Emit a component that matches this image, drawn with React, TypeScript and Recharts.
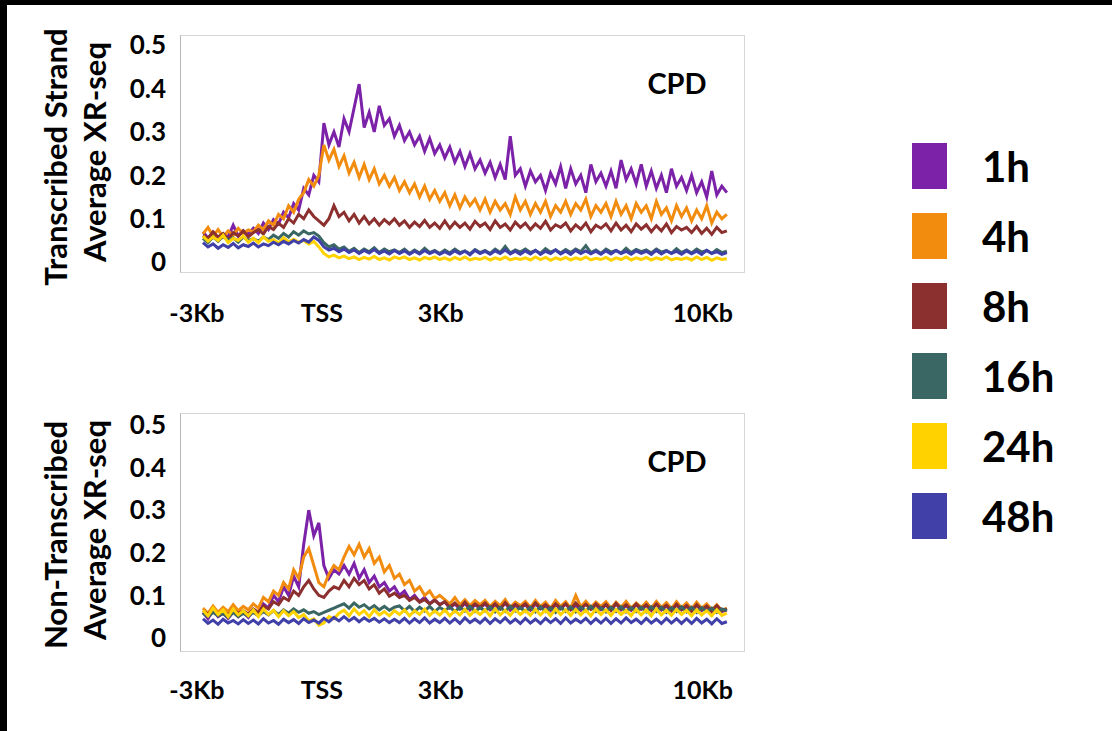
import { LineChart, Line, XAxis, YAxis } from "recharts";

const hours = ["1h", "4h", "8h", "16h", "24h", "48h"];
const colors = ["#7B22A8", "#F28C0F", "#8B2F2F", "#3A6663", "#FFD200", "#4040A8"];
const keys = ["h1", "h4", "h8", "h16", "h24", "h48"];

const yTicks = [0, 0.1, 0.2, 0.3, 0.4, 0.5];
const xTickLabels = ["-3Kb", "TSS", "3Kb", "10Kb"];
const xTickPositions = [-3.15, -0.05, 2.9, 9.4];

// bins of 0.125 kb from -3Kb
const START_KB = -3;
const STEP_KB = 0.125;

// transcribed strand
const ts1h = [
  0.07, 0.055, 0.068, 0.05, 0.062, 0.058, 0.085, 0.06, 0.072, 0.064,
  0.078, 0.066, 0.09, 0.075, 0.098, 0.088, 0.115, 0.102, 0.135, 0.12,
  0.17, 0.155, 0.2, 0.185,
  0.32, 0.27, 0.3, 0.265,
  0.33, 0.3, 0.355, 0.41, 0.31, 0.345, 0.3, 0.36, 0.315, 0.33, 0.29,
  0.315, 0.28, 0.3, 0.27, 0.29, 0.255, 0.285, 0.25, 0.27,
  0.24, 0.265, 0.23, 0.255, 0.22, 0.25, 0.215, 0.235,
  0.205, 0.23, 0.195, 0.225, 0.19, 0.29, 0.2, 0.215,
  0.175, 0.21, 0.185, 0.2, 0.165, 0.205, 0.18, 0.22,
  0.17, 0.215, 0.18, 0.2, 0.16, 0.225, 0.185, 0.205,
  0.175, 0.21, 0.17, 0.235, 0.19, 0.215, 0.18, 0.225,
  0.175, 0.21, 0.17, 0.2, 0.16, 0.215, 0.175, 0.195,
  0.165, 0.2, 0.16, 0.185, 0.15, 0.21, 0.155, 0.175, 0.16,
];
const ts4h = [
  0.065, 0.08, 0.06, 0.075, 0.058, 0.072, 0.062, 0.078, 0.066, 0.074,
  0.07, 0.085, 0.075, 0.095, 0.085, 0.11, 0.1, 0.13, 0.115, 0.145,
  0.16, 0.19, 0.175, 0.2,
  0.27, 0.235, 0.26, 0.22,
  0.245, 0.205, 0.23, 0.195, 0.225, 0.19, 0.215, 0.18, 0.2, 0.175, 0.195,
  0.165, 0.185, 0.16, 0.18, 0.15, 0.175, 0.145, 0.165, 0.14,
  0.16, 0.13, 0.155, 0.125, 0.15, 0.13, 0.145, 0.12,
  0.145, 0.115, 0.14, 0.12, 0.135, 0.11, 0.15, 0.12,
  0.14, 0.11, 0.135, 0.115, 0.14, 0.105, 0.13, 0.115,
  0.14, 0.11, 0.135, 0.12, 0.145, 0.105, 0.13, 0.115,
  0.135, 0.105, 0.14, 0.11, 0.13, 0.1, 0.135, 0.115,
  0.13, 0.1, 0.14, 0.11, 0.125, 0.095, 0.13, 0.105,
  0.125, 0.095, 0.12, 0.1, 0.13, 0.09, 0.115, 0.1, 0.11,
];
const ts8h = [
  0.062, 0.055, 0.07, 0.058, 0.066, 0.052, 0.068, 0.06, 0.072, 0.058,
  0.068, 0.075, 0.065, 0.082, 0.075, 0.09, 0.08, 0.1, 0.09, 0.11,
  0.1, 0.12, 0.105, 0.095,
  0.085, 0.1, 0.13, 0.105,
  0.115, 0.095, 0.11, 0.09, 0.105, 0.088, 0.1, 0.085, 0.098, 0.088, 0.1,
  0.085, 0.095, 0.08, 0.092, 0.082, 0.096, 0.08, 0.09, 0.078,
  0.095, 0.078, 0.092, 0.08, 0.09, 0.076, 0.094, 0.082,
  0.09, 0.075, 0.095, 0.08, 0.088, 0.074, 0.092, 0.08,
  0.09, 0.075, 0.088, 0.078, 0.094, 0.074, 0.086, 0.08,
  0.09, 0.072, 0.086, 0.076, 0.09, 0.07, 0.085, 0.078,
  0.088, 0.072, 0.09, 0.074, 0.085, 0.07, 0.088, 0.076,
  0.086, 0.07, 0.084, 0.072, 0.088, 0.068, 0.082, 0.074,
  0.08, 0.068, 0.082, 0.066, 0.078, 0.064, 0.08, 0.068, 0.072,
];
const ts16h = [
  0.055, 0.045, 0.058, 0.048, 0.06, 0.05, 0.056, 0.046, 0.058, 0.05,
  0.054, 0.048, 0.058, 0.052, 0.062, 0.055, 0.066, 0.058, 0.07, 0.062,
  0.072, 0.065, 0.068, 0.06,
  0.045, 0.035, 0.04, 0.03,
  0.035, 0.025, 0.032, 0.022, 0.03, 0.024, 0.033, 0.022, 0.03, 0.024, 0.028,
  0.022, 0.03, 0.02, 0.028, 0.021, 0.032, 0.022, 0.027, 0.02,
  0.028, 0.021, 0.03, 0.022, 0.026, 0.019, 0.029, 0.022,
  0.027, 0.02, 0.03, 0.022, 0.036, 0.021, 0.028, 0.023,
  0.03, 0.022, 0.027, 0.02, 0.031, 0.023, 0.028, 0.021,
  0.029, 0.022, 0.03, 0.024, 0.038, 0.022, 0.028, 0.02,
  0.03, 0.023, 0.027, 0.021, 0.032, 0.022, 0.029, 0.024,
  0.028, 0.021, 0.03, 0.023, 0.027, 0.02, 0.031, 0.022,
  0.028, 0.021, 0.03, 0.023, 0.027, 0.02, 0.029, 0.022, 0.025,
];
const ts24h = [
  0.06, 0.048, 0.058, 0.05, 0.062, 0.045, 0.055, 0.05, 0.06, 0.046,
  0.055, 0.045, 0.058, 0.048, 0.052, 0.044, 0.056, 0.047, 0.053, 0.046,
  0.05, 0.042, 0.048, 0.035,
  0.02, 0.012, 0.016, 0.01,
  0.014, 0.008, 0.012, 0.006, 0.011, 0.007, 0.013, 0.006, 0.01, 0.005, 0.012,
  0.008, 0.012, 0.006, 0.01, 0.005, 0.011, 0.007, 0.012, 0.006,
  0.01, 0.005, 0.011, 0.006, 0.012, 0.005, 0.009, 0.006,
  0.011, 0.005, 0.01, 0.006, 0.012, 0.005, 0.009, 0.006,
  0.01, 0.005, 0.012, 0.006, 0.011, 0.004, 0.01, 0.006,
  0.011, 0.005, 0.01, 0.006, 0.012, 0.005, 0.009, 0.006,
  0.011, 0.004, 0.01, 0.006, 0.012, 0.005, 0.01, 0.006,
  0.011, 0.005, 0.01, 0.006, 0.012, 0.005, 0.009, 0.006,
  0.01, 0.005, 0.012, 0.006, 0.011, 0.004, 0.01, 0.006, 0.008,
];
const ts48h = [
  0.045, 0.035, 0.042, 0.032, 0.04, 0.034, 0.043, 0.033, 0.04, 0.036,
  0.044, 0.035, 0.042, 0.038, 0.046, 0.04, 0.048, 0.042, 0.05, 0.044,
  0.052, 0.046, 0.058, 0.05,
  0.035, 0.028, 0.032, 0.024,
  0.03, 0.022, 0.028, 0.02, 0.027, 0.021, 0.029, 0.02, 0.026, 0.019, 0.027,
  0.02, 0.026, 0.018, 0.025, 0.019, 0.027, 0.02, 0.025, 0.018,
  0.024, 0.018, 0.026, 0.019, 0.025, 0.017, 0.027, 0.02,
  0.025, 0.018, 0.026, 0.02, 0.028, 0.019, 0.025, 0.018,
  0.026, 0.019, 0.027, 0.018, 0.025, 0.02, 0.028, 0.019,
  0.025, 0.018, 0.027, 0.02, 0.026, 0.019, 0.025, 0.018,
  0.026, 0.019, 0.027, 0.02, 0.025, 0.018, 0.026, 0.02,
  0.025, 0.018, 0.027, 0.019, 0.026, 0.02, 0.025, 0.018,
  0.026, 0.019, 0.025, 0.018, 0.027, 0.02, 0.024, 0.018, 0.022,
];

// non-transcribed strand
const nt1h = [
  0.06, 0.045, 0.065, 0.05, 0.058, 0.046, 0.062, 0.05, 0.06, 0.048,
  0.065, 0.055, 0.08, 0.07, 0.1, 0.085, 0.12, 0.1, 0.145, 0.12,
  0.22, 0.3, 0.24, 0.27,
  0.17, 0.14, 0.16, 0.15,
  0.17, 0.15, 0.175, 0.14, 0.16, 0.13, 0.145, 0.12, 0.13, 0.11, 0.12,
  0.1, 0.11, 0.09, 0.1, 0.085, 0.095, 0.08, 0.09, 0.078,
  0.085, 0.07, 0.08, 0.068, 0.082, 0.066, 0.078, 0.07,
  0.08, 0.066, 0.078, 0.068, 0.082, 0.065, 0.076, 0.07,
  0.078, 0.065, 0.08, 0.068, 0.075, 0.064, 0.078, 0.068,
  0.08, 0.066, 0.075, 0.065, 0.082, 0.068, 0.076, 0.066,
  0.078, 0.064, 0.08, 0.066, 0.076, 0.065, 0.078, 0.067,
  0.076, 0.064, 0.08, 0.066, 0.075, 0.063, 0.077, 0.066,
  0.074, 0.062, 0.076, 0.064, 0.072, 0.06, 0.074, 0.062, 0.066,
];
const nt4h = [
  0.07, 0.058, 0.075, 0.06, 0.072, 0.062, 0.078, 0.064, 0.074, 0.066,
  0.08, 0.07, 0.095, 0.085, 0.11, 0.1, 0.13, 0.115, 0.16, 0.14,
  0.19, 0.21, 0.17, 0.13,
  0.12, 0.15, 0.17, 0.16,
  0.19, 0.215, 0.195, 0.22, 0.19, 0.21, 0.175, 0.19, 0.155, 0.17, 0.14,
  0.15, 0.125, 0.135, 0.11, 0.12, 0.1, 0.11, 0.092, 0.1,
  0.09, 0.08, 0.095, 0.078, 0.09, 0.076, 0.088, 0.078,
  0.088, 0.074, 0.086, 0.076, 0.09, 0.072, 0.084, 0.076,
  0.086, 0.072, 0.088, 0.074, 0.084, 0.07, 0.088, 0.074,
  0.085, 0.07, 0.1, 0.073, 0.086, 0.072, 0.084, 0.074,
  0.085, 0.07, 0.084, 0.072, 0.086, 0.07, 0.082, 0.072,
  0.084, 0.07, 0.086, 0.072, 0.083, 0.069, 0.085, 0.071,
  0.082, 0.068, 0.084, 0.07, 0.08, 0.066, 0.078, 0.064, 0.07,
];
const nt8h = [
  0.064, 0.055, 0.068, 0.056, 0.062, 0.054, 0.066, 0.058, 0.064, 0.056,
  0.068, 0.06, 0.075, 0.068, 0.085, 0.078, 0.095, 0.088, 0.11, 0.1,
  0.12, 0.135, 0.115, 0.1,
  0.095, 0.11, 0.12, 0.115,
  0.135, 0.12, 0.14, 0.125, 0.135, 0.115, 0.125, 0.105, 0.115, 0.098, 0.105,
  0.095, 0.1, 0.088, 0.095, 0.084, 0.09, 0.08, 0.088, 0.078,
  0.085, 0.072, 0.082, 0.07, 0.084, 0.07, 0.08, 0.072,
  0.082, 0.07, 0.08, 0.068, 0.083, 0.07, 0.079, 0.071,
  0.08, 0.068, 0.082, 0.07, 0.078, 0.068, 0.08, 0.07,
  0.08, 0.067, 0.082, 0.069, 0.079, 0.067, 0.08, 0.069,
  0.079, 0.066, 0.081, 0.068, 0.078, 0.067, 0.08, 0.068,
  0.078, 0.066, 0.08, 0.068, 0.077, 0.065, 0.079, 0.067,
  0.076, 0.064, 0.078, 0.066, 0.075, 0.063, 0.076, 0.064, 0.068,
];
const nt16h = [
  0.058, 0.05, 0.06, 0.052, 0.057, 0.048, 0.06, 0.05, 0.058, 0.051,
  0.06, 0.052, 0.062, 0.054, 0.064, 0.055, 0.066, 0.058, 0.068, 0.06,
  0.066, 0.058, 0.062, 0.055,
  0.06, 0.065, 0.07, 0.075,
  0.08, 0.07, 0.082, 0.072, 0.078, 0.068, 0.076, 0.066, 0.074, 0.065, 0.072,
  0.075, 0.064, 0.074, 0.062, 0.072, 0.063, 0.074, 0.062, 0.072,
  0.064, 0.073, 0.062, 0.072, 0.063, 0.074, 0.062, 0.071,
  0.063, 0.073, 0.061, 0.072, 0.062, 0.074, 0.063, 0.071,
  0.062, 0.072, 0.061, 0.073, 0.062, 0.071, 0.06, 0.072,
  0.062, 0.073, 0.061, 0.072, 0.063, 0.074, 0.062, 0.071,
  0.061, 0.072, 0.062, 0.073, 0.061, 0.071, 0.062, 0.072,
  0.061, 0.073, 0.062, 0.072, 0.06, 0.071, 0.062, 0.073,
  0.061, 0.072, 0.06, 0.071, 0.062, 0.07, 0.06, 0.068, 0.064,
];
const nt24h = [
  0.065, 0.052, 0.07, 0.055, 0.066, 0.05, 0.068, 0.054, 0.064, 0.052,
  0.066, 0.05, 0.068, 0.055, 0.065, 0.05, 0.064, 0.052, 0.062, 0.048,
  0.055, 0.04, 0.045, 0.03,
  0.035, 0.05, 0.045, 0.058,
  0.065, 0.052, 0.068, 0.055, 0.064, 0.05, 0.066, 0.054, 0.062, 0.052, 0.064,
  0.055, 0.066, 0.052, 0.064, 0.055, 0.068, 0.053, 0.064, 0.054,
  0.066, 0.052, 0.064, 0.054, 0.067, 0.053, 0.065, 0.055,
  0.066, 0.052, 0.068, 0.054, 0.065, 0.053, 0.067, 0.055,
  0.065, 0.053, 0.067, 0.054, 0.066, 0.052, 0.068, 0.055,
  0.066, 0.053, 0.067, 0.054, 0.065, 0.052, 0.068, 0.055,
  0.066, 0.053, 0.067, 0.055, 0.065, 0.052, 0.067, 0.054,
  0.066, 0.052, 0.068, 0.054, 0.065, 0.053, 0.067, 0.055,
  0.065, 0.052, 0.066, 0.054, 0.064, 0.052, 0.066, 0.053, 0.058,
];
const nt48h = [
  0.045, 0.034, 0.042, 0.032, 0.044, 0.035, 0.041, 0.033, 0.043, 0.034,
  0.042, 0.033, 0.045, 0.035, 0.041, 0.032, 0.044, 0.036, 0.043, 0.034,
  0.045, 0.036, 0.042, 0.035,
  0.046, 0.038, 0.048, 0.04,
  0.05, 0.04, 0.048, 0.038, 0.047, 0.039, 0.046, 0.037, 0.045, 0.036, 0.044,
  0.036, 0.046, 0.035, 0.045, 0.036, 0.047, 0.035, 0.044, 0.036,
  0.046, 0.035, 0.045, 0.034, 0.047, 0.036, 0.044, 0.035,
  0.046, 0.034, 0.045, 0.036, 0.047, 0.035, 0.044, 0.034,
  0.046, 0.035, 0.044, 0.034, 0.046, 0.036, 0.045, 0.034,
  0.047, 0.035, 0.044, 0.036, 0.046, 0.034, 0.045, 0.035,
  0.046, 0.034, 0.045, 0.035, 0.047, 0.036, 0.044, 0.034,
  0.046, 0.035, 0.044, 0.034, 0.046, 0.035, 0.045, 0.034,
  0.045, 0.034, 0.046, 0.035, 0.044, 0.033, 0.045, 0.034, 0.038,
];

const buildRows = (series: number[][]) =>
  series[0].map((_, i) => {
    const row: Record<string, number> = { kb: START_KB + i * STEP_KB };
    keys.forEach((k, s) => (row[k] = series[s][i]));
    return row;
  });

const tsRows = buildRows([ts1h, ts4h, ts8h, ts16h, ts24h, ts48h]);
const ntRows = buildRows([nt1h, nt4h, nt8h, nt16h, nt24h, nt48h]);

const FONT = "Lato, 'Open Sans', sans-serif";

type PanelProps = {
  top: number;
  rows: Record<string, number>[];
  yDomain: [number, number];
  plotHeight: number;
  xTickMargin: number;
  titles: [string, string];
};

const Panel = ({ top, rows, yDomain, plotHeight, xTickMargin, titles }: PanelProps) => {
  const chartH = 340;
  const marginTop = 35;
  return (
    <>
      <div
        style={{
          position: "absolute",
          left: 180,
          top: top + marginTop,
          width: 565,
          height: plotHeight,
          boxSizing: "border-box",
          border: "1px solid #d6d6d6",
          borderLeft: "1px solid #b5b5b5",
        }}
      />
      <div style={{ position: "absolute", left: 0, top }}>
        <LineChart
          width={760}
          height={chartH}
          data={rows}
          margin={{ top: marginTop, right: 15, bottom: 0, left: 0 }}
        >
          <XAxis
            type="number"
            dataKey="kb"
            domain={[-3.57, 10.45]}
            ticks={xTickPositions}
            interval={0}
            tickFormatter={(v: number) => xTickLabels[xTickPositions.indexOf(v)]}
            axisLine={false}
            tickLine={false}
            tickSize={0}
            tickMargin={xTickMargin}
            height={chartH - marginTop - plotHeight}
            tick={{ fill: "#000", fontSize: 25, fontWeight: 700, fontFamily: FONT }}
          />
          <YAxis
            type="number"
            domain={yDomain}
            ticks={yTicks}
            interval={0}
            allowDataOverflow
            tickFormatter={(v: number) => (v === 0 ? "0" : v.toFixed(1))}
            axisLine={false}
            tickLine={false}
            tickSize={0}
            tickMargin={14}
            width={180}
            tick={{ fill: "#000", fontSize: 26, fontWeight: 700, fontFamily: FONT }}
          />
          {keys.map((k, i) => (
            <Line
              key={k}
              type="linear"
              dataKey={k}
              name={hours[i]}
              stroke={colors[i]}
              strokeWidth={3}
              dot={false}
              isAnimationActive={false}
            />
          ))}
        </LineChart>
      </div>
      <div
        style={{
          position: "absolute",
          left: 677,
          top: top + 82,
          transform: "translate(-50%, -50%)",
          fontFamily: FONT,
          fontWeight: 700,
          fontSize: 29,
          color: "#000",
        }}
      >
        CPD
      </div>
      {titles.map((t, i) => (
        <div
          key={t + i}
          style={{
            position: "absolute",
            left: i === 0 ? 55 : 94,
            top: top + (i === 0 ? 157 : 152),
            transform: "translate(-50%, -50%) rotate(-90deg)",
            whiteSpace: "nowrap",
            fontFamily: FONT,
            fontWeight: 700,
            fontSize: 31,
            color: "#000",
          }}
        >
          {t}
        </div>
      ))}
    </>
  );
};

export default function App() {
  return (
    <div
      style={{
        position: "fixed",
        left: 0,
        top: 0,
        width: 1112,
        height: 731,
        background: "#000",
        overflow: "hidden",
      }}
    >
      <div style={{ position: "absolute", left: 7, top: 5, right: 0, bottom: 0, background: "#fff" }} />
      <Panel
        top={0}
        rows={tsRows}
        yDomain={[-0.025, 0.523]}
        plotHeight={238}
        xTickMargin={31}
        titles={["Transcribed Strand", "Average XR-seq"]}
      />
      <Panel
        top={378}
        rows={ntRows}
        yDomain={[-0.033, 0.528]}
        plotHeight={239}
        xTickMargin={29}
        titles={["Non-Transcribed", "Average XR-seq"]}
      />
      <div style={{ position: "absolute", left: 912, top: 143 }}>
        {hours.map((h, i) => (
          <div key={h} style={{ display: "flex", alignItems: "center", height: 46, marginBottom: 24 }}>
            <div style={{ width: 35, height: 46, background: colors[i] }} />
            <div
              style={{
                marginLeft: 35,
                fontFamily: FONT,
                fontWeight: 700,
                fontSize: 42,
                color: "#000",
                lineHeight: "46px",
              }}
            >
              {h}
            </div>
          </div>
        ))}
      </div>
    </div>
  );
}
